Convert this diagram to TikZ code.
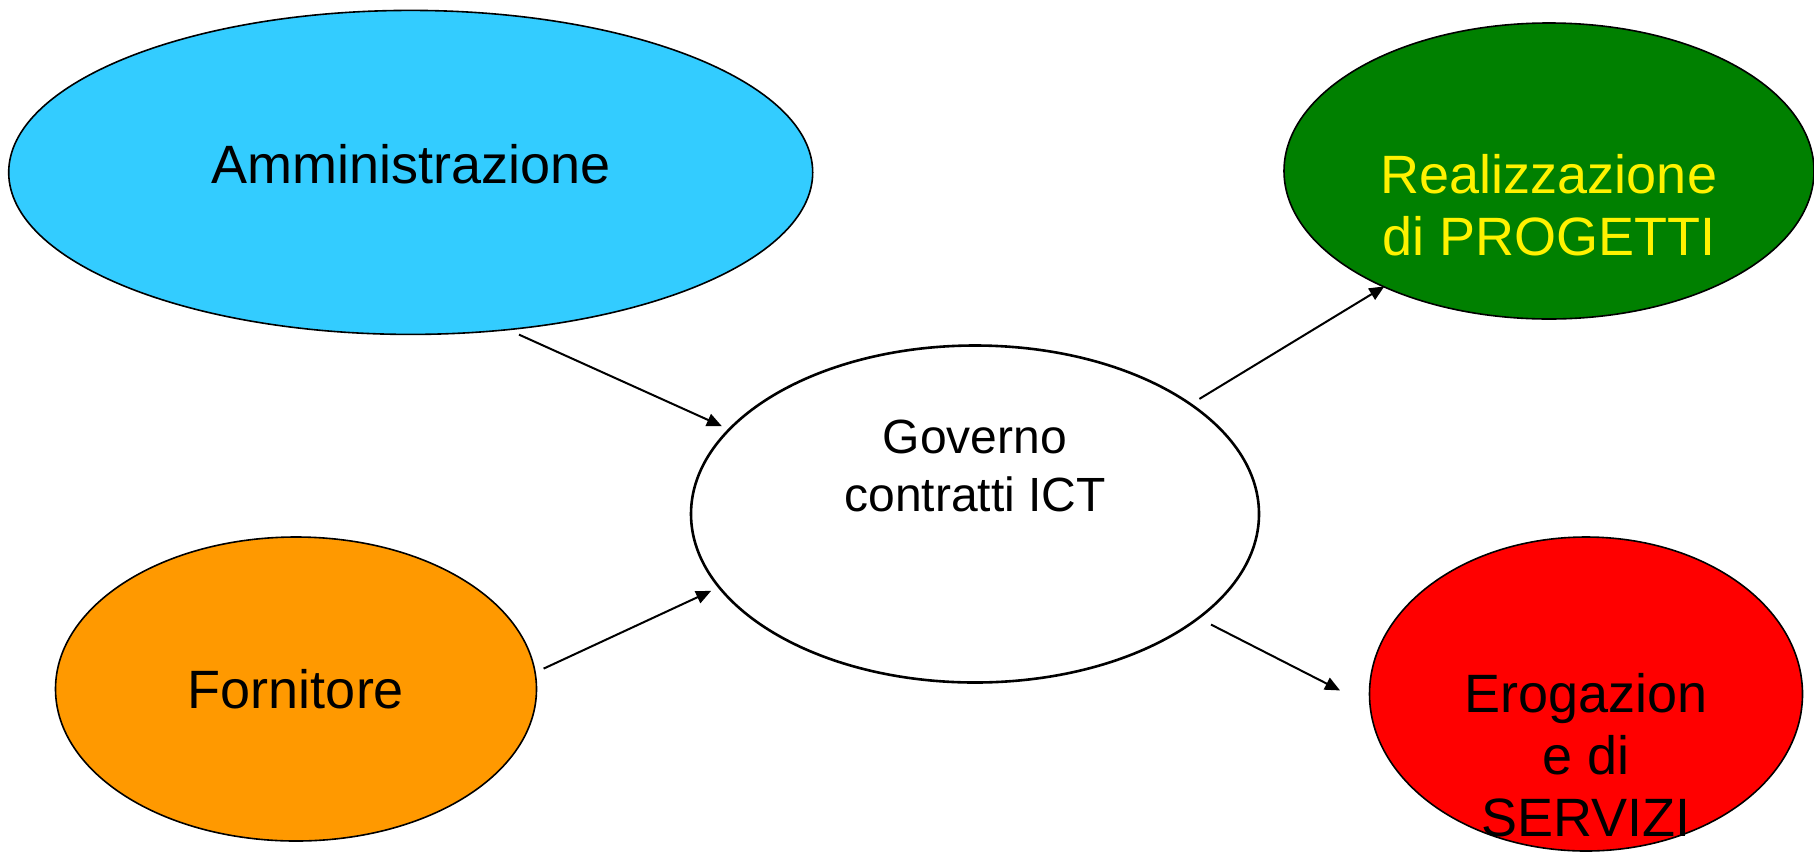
\documentclass[tikz,border=0pt]{standalone}
\usepackage{fontspec}
\setmainfont{Liberation Sans}
\usetikzlibrary{shapes.geometric, arrows.meta}
\definecolor{skyfill}{HTML}{33CCFF}
\definecolor{leaffill}{HTML}{008000}
\definecolor{amberfill}{HTML}{FF9900}
\definecolor{firefill}{HTML}{FF0000}
\tikzset{
        blob/.style={ellipse, draw=black, line width=0.8pt, inner sep=0pt, align=center,
          font=\fontsize{27}{31}\selectfont},
        sky/.style={blob, fill=skyfill},
        leaf/.style={blob, fill=leaffill},
        amber/.style={blob, fill=amberfill},
        fire/.style={blob, fill=firefill},
        plain/.style={blob, fill=white, line width=1.3pt},
        lbl/.style={align=center, inner sep=0pt, font=\fontsize{27}{31}\selectfont},
        arr/.style={-{Triangle[length=7.5pt, width=6.5pt]}, line width=1pt}
          }
\begin{document}
\begin{tikzpicture}[x=0.5pt, y=-0.5pt]
            \useasboundingbox (0,0) rectangle (1814,852);
            % ellipses
            \node[sky, minimum width=402pt, minimum height=162pt] (admin) at (410.7,172.4) {};
            \node[leaf, minimum width=265pt, minimum height=148pt] (proj) at (1549,171) {};
            \node[plain, minimum width=284pt, minimum height=168.5pt] (gov) at (975,514) {};
            \node[amber, minimum width=240.5pt, minimum height=152pt] (supp) at (296,689) {Fornitore};
            \node[fire, minimum width=216.5pt, minimum height=157pt] (serv) at (1586,694) {};
            % texts
            \node[lbl, yshift=4pt] (admintxt) at (admin) {Amministrazione};
            \node[lbl, text=yellow, yshift=-17pt] (projtxt) at (proj) {Realizzazione\\di PROGETTI};
            \node[lbl, font=\fontsize{24}{29}\selectfont, yshift=24pt] (govtxt) at (gov) {Governo\\contratti ICT};
            \node[lbl, yshift=-30.5pt] (servtxt) at (serv) {Erogazion\\e di\\SERVIZI};
            % arrows
            \draw[arr, shorten <=5.3pt, shorten >=3.4pt] (admin.-58.3) -- (gov.161.3);
            \draw[arr, shorten <=4.3pt, shorten >=3.8pt] (supp.4.9) -- (gov.196.6);
            \draw[arr, shorten <=4.5pt, shorten >=-0.8pt] (gov.27.4) -- (proj.215.8);
            \draw[arr, shorten <=6.4pt, shorten >=16.4pt] (gov.-25.5) -- (serv.183);
          \end{tikzpicture}
\end{document}
